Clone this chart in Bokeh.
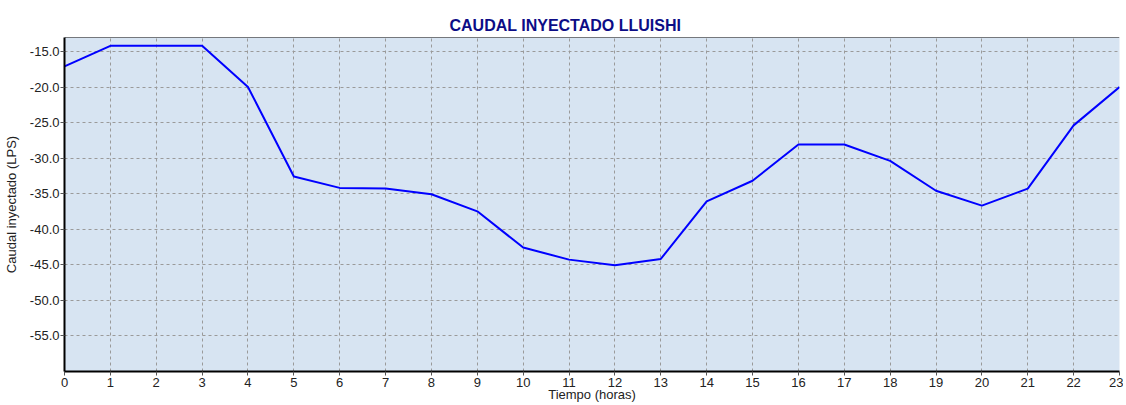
from bokeh.plotting import figure
from bokeh.models import ColumnDataSource, FixedTicker, Range1d, Span, NumeralTickFormatter
from bokeh.embed import file_html
from bokeh.resources import INLINE

hours = list(range(24))
caudal = [-17.1, -14.2, -14.2, -14.2, -20.0, -32.6, -34.2, -34.3, -35.1, -37.5,
          -42.6, -44.3, -45.1, -44.2, -36.1, -33.2, -28.1, -28.1, -30.4, -34.6,
          -36.7, -34.3, -25.4, -20.0]
y_ticks = [-15, -20, -25, -30, -35, -40, -45, -50, -55]
title_text = "CAUDAL INYECTADO LLUISHI"
x_label = "Tiempo (horas)"
y_label = "Caudal inyectado (LPS)"

Y0, Y1 = -60.05, -13.03
src = ColumnDataSource(dict(x=hours, y=caudal))

p = figure(frame_width=1055, frame_height=334, output_backend="svg", toolbar_location=None,
           x_range=Range1d(0, 23), y_range=Range1d(Y0, Y1),
           min_border_left=64, min_border_right=4, min_border_top=37, min_border_bottom=34)

p.title.text = title_text
p.title.align = "left"
p.title.offset = 385
p.title.text_font = "Liberation Sans"
p.title.text_font_size = "16px"
p.title.text_font_style = "bold"
p.title.text_color = "#0C0C86"
p.title.standoff = 7

p.background_fill_color = "#D7E4F2"
p.border_fill_color = "white"
p.outline_line_color = None

p.line("x", "y", source=src, line_color="#0000FF", line_width=2)

p.xaxis.ticker = FixedTicker(ticks=hours)
p.yaxis.ticker = FixedTicker(ticks=y_ticks)
p.yaxis.formatter = NumeralTickFormatter(format="0.0")

for ax in (p.xaxis[0], p.yaxis[0]):
    ax.axis_line_color = "black"
    ax.axis_line_width = 2
    ax.major_tick_line_color = "#555555"
    ax.major_tick_out = 4
    ax.major_tick_in = 0
    ax.minor_tick_line_color = None
    ax.major_label_text_font = "Liberation Sans"
    ax.major_label_text_font_size = "13px"
    ax.major_label_text_color = "#222222"
    ax.axis_label_text_font = "Liberation Sans"
    ax.axis_label_text_font_size = "13px"
    ax.axis_label_text_font_style = "normal"
    ax.axis_label_text_color = "#222222"

p.xaxis.axis_label = x_label
p.yaxis.axis_label = y_label
p.xaxis.major_label_standoff = 2
p.xaxis.axis_label_standoff = -3
p.yaxis.major_label_standoff = 1
p.yaxis.axis_label_standoff = 8

p.grid.grid_line_color = "#9A9A9A"
p.grid.grid_line_dash = "3 3"
p.grid.grid_line_width = 1

p.add_layout(Span(location=Y1, dimension="width", line_color="black", line_width=1))

open("out.html", "w").write(file_html(p, INLINE))
